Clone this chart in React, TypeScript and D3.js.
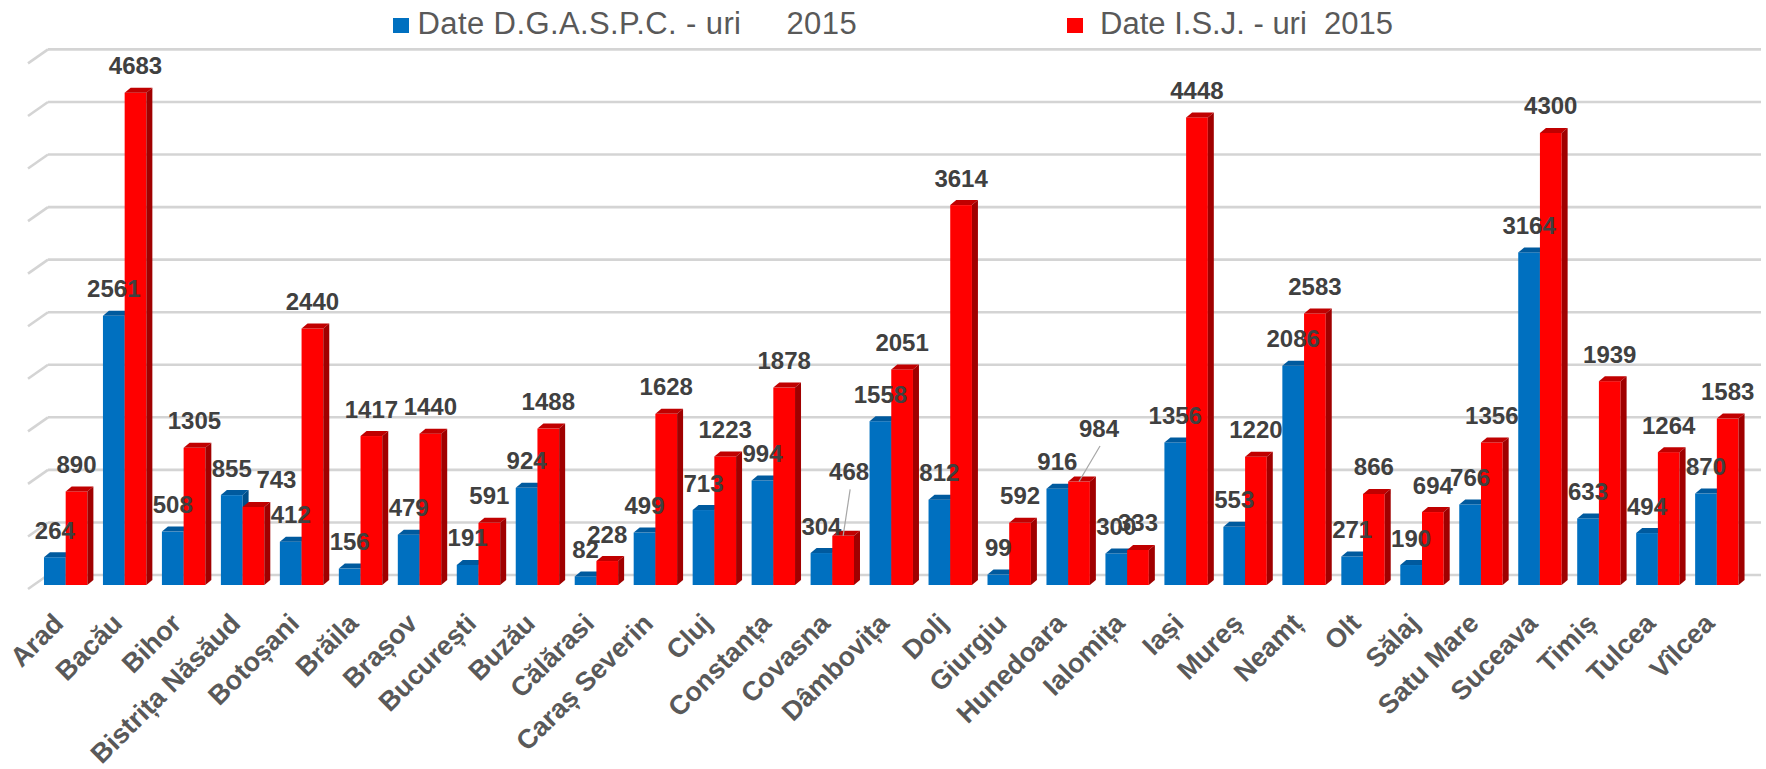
import React from "react";
import * as d3 from "d3";

const categories = [
  "Arad", "Bacău", "Bihor", "Bistrița Năsăud", "Botoșani", "Brăila", "Brașov",
  "București", "Buzău", "Călărasi", "Caraș Severin", "Cluj", "Constanța", "Covasna",
  "Dâmbovița", "Dolj", "Giurgiu", "Hunedoara", "Ialomița", "Iași", "Mureș", "Neamț",
  "Olt", "Sălaj", "Satu Mare", "Suceava", "Timiș", "Tulcea", "Vîlcea",
];

const dgaspc2015 = [
  264, 2561, 508, 855, 412, 156, 479, 191, 924, 82, 499, 713, 994, 304, 1558, 812,
  99, 916, 300, 1356, 553, 2086, 271, 190, 766, 3164, 633, 494, 870,
];

const isj2015 = [
  890, 4683, 1305, 743, 2440, 1417, 1440, 591, 1488, 228, 1628, 1223, 1878, 468,
  2051, 3614, 592, 984, 333, 4448, 1220, 2583, 866, 694, 1356, 4300, 1939, 1264, 1583,
];

const seriesNames = ["Date D.G.A.S.P.C. - uri     2015", " Date I.S.J. - uri  2015"];
const yTicks = [0, 500, 1000, 1500, 2000, 2500, 3000, 3500, 4000, 4500, 5000];

// layout / style
const W = 1766;
const H = 769;
const DX = 6;
const DY = -5;
const WALL_DX = 20;
const WALL_DY = 14;
const colors = [
  { front: "#0070c0", top: "#005a9e", side: "#004f8a" },
  { front: "#ff0000", top: "#c00000", side: "#a00000" },
];
// manual label tweaks (series, category index) -> pixel offset / leader
const labelTweaks: Record<string, { dx: number; dy: number; leader?: boolean }> = {
  "1-3": { dx: 23, dy: 0 },
  "1-13": { dx: 6, dy: -37, leader: true },
  "1-17": { dx: 20, dy: -26, leader: true },
};

export default function App() {
  const x = d3
    .scaleBand<string>()
    .domain(categories)
    .range([36.2, 36.2 + 29 * 58.97])
    .paddingInner(0.264)
    .paddingOuter(0.132);
  const xs = d3.scaleBand<number>().domain([0, 1]).range([0, x.bandwidth()]);
  const y = d3.scaleLinear().domain([0, 5000]).range([585, 59.4]);
  const backOff = -10;
  const gridX0 = 48;
  const gridX1 = 1761;
  const series = [dgaspc2015, isj2015];

  return (
    <svg
      width={W}
      height={H}
      style={{ position: "absolute", left: 0, top: 0, display: "block", background: "#fff" }}
      fontFamily="'Liberation Sans', Arial, sans-serif"
    >
      {/* legend */}
      <g>
        <rect x={393} y={18} width={16} height={15} fill={colors[0].front} />
        <text x={417.5} y={34} fontSize={31} letterSpacing={0.4} fill="#595959" style={{ whiteSpace: "pre" }}>
          {seriesNames[0]}
        </text>
        <rect x={1067} y={18} width={16} height={15} fill={colors[1].front} />
        <text x={1091.5} y={34} fontSize={31} fill="#595959" style={{ whiteSpace: "pre" }}>
          {seriesNames[1]}
        </text>
      </g>

      {/* gridlines */}
      <g stroke="#d4d4d4" strokeWidth={2.6} fill="none">
        {yTicks.map((t) => {
          const gy = y(t) + backOff;
          return (
            <g key={t}>
              <line x1={gridX0} x2={gridX1} y1={gy} y2={gy} />
              <line x1={gridX0 - WALL_DX} y1={gy + WALL_DY} x2={gridX0} y2={gy} />
            </g>
          );
        })}
      </g>

      {/* bars */}
      <g>
        {categories.map((c, i) => (
          <g key={c}>
            {series.map((vals, s) => {
              const x0 = (x(c) as number) + (xs(s) as number);
              const w = xs.bandwidth();
              const yt = y(vals[i]);
              const yb = y(0);
              const col = colors[s];
              return (
                <g key={s}>
                  <rect x={x0} y={yt} width={w} height={yb - yt} fill={col.front} />
                  <path
                    d={`M${x0},${yt}L${x0 + w},${yt}L${x0 + w + DX},${yt + DY}L${x0 + DX},${yt + DY}Z`}
                    fill={col.top}
                  />
                  <path
                    d={`M${x0 + w},${yt}L${x0 + w + DX},${yt + DY}L${x0 + w + DX},${yb + DY}L${x0 + w},${yb}Z`}
                    fill={col.side}
                  />
                </g>
              );
            })}
          </g>
        ))}
      </g>

      {/* value labels */}
      <g fontSize={24} fontWeight="bold" fill="#404040" textAnchor="middle">
        {categories.map((c, i) =>
          series.map((vals, s) => {
            const cx = (x(c) as number) + (xs(s) as number) + xs.bandwidth() / 2;
            const yt = y(vals[i]);
            const tw = labelTweaks[`${s}-${i}`];
            const lx = cx + (tw ? tw.dx : 0);
            const ly = yt - 18.5 + (tw ? tw.dy : 0);
            return (
              <g key={`${c}-${s}`}>
                {tw && tw.leader ? (
                  <line x1={lx + 1} y1={ly + 9} x2={cx} y2={yt} stroke="#a6a6a6" strokeWidth={1.2} />
                ) : null}
                <text x={lx} y={ly}>
                  {vals[i]}
                </text>
              </g>
            );
          })
        )}
      </g>

      {/* category labels */}
      <g fontSize={27} fontWeight="bold" fill="#595959" textAnchor="end">
        {categories.map((c) => {
          const cx = (x(c) as number) + x.bandwidth() / 2 - 0.7;
          return (
            <text key={c} transform={`translate(${cx},625) rotate(-45)`}>
              {c}
            </text>
          );
        })}
      </g>
    </svg>
  );
}
